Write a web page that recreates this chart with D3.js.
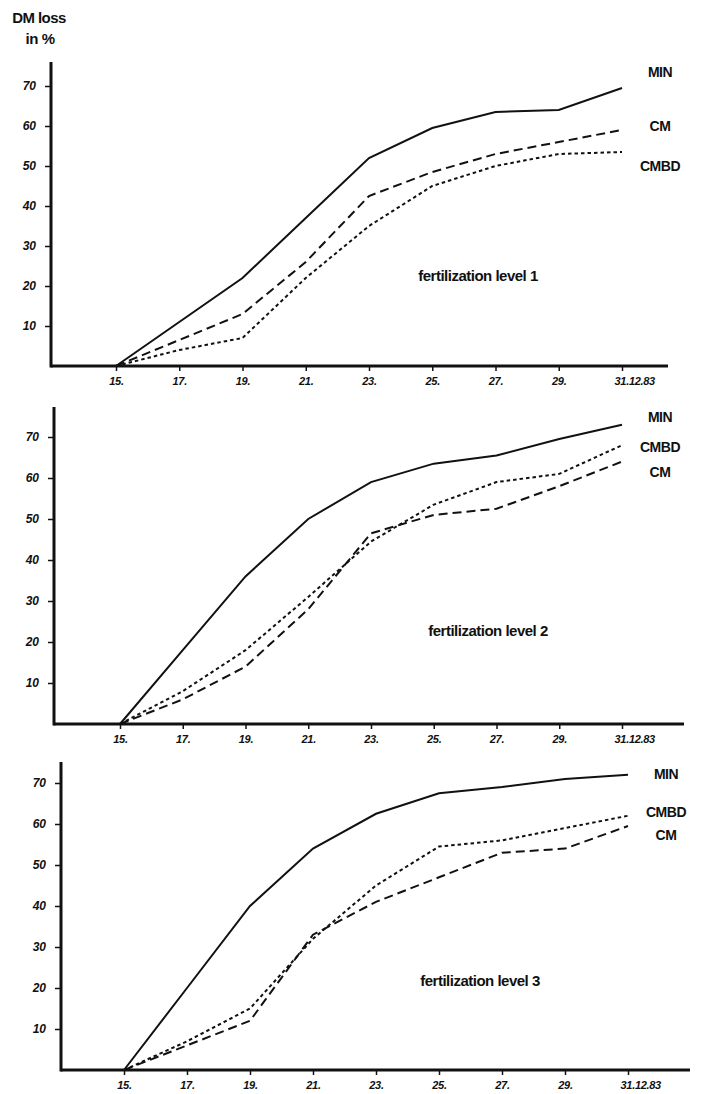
<!DOCTYPE html>
<html>
<head>
<meta charset="utf-8">
<script src="https://cdn.jsdelivr.net/npm/d3@7"></script>
<style>
  body { margin: 0; background: #fff; }
  svg { display: block; }
  .lbl { font-family: "Liberation Sans", Arial, sans-serif; font-weight: bold; fill: #111; }
  .tick-lbl { font-family: "Liberation Sans", Arial, sans-serif; font-weight: bold; font-style: italic; fill: #111; }
</style>
</head>
<body>
<svg id="chart"></svg>
<script>
"use strict";

// Dates on the x axis (December 1983)
const days = [15, 17, 19, 21, 23, 25, 27, 29, 31];
const dayLabels = ["15.", "17.", "19.", "21.", "23.", "25.", "27.", "29.", "31.12.83"];
const yTicks = [10, 20, 30, 40, 50, 60, 70];

// DM loss in %, fertilization level 1
const min1 = [0, 11, 22, 37, 52, 59.5, 63.5, 64, 69.5];
const cm1 = [0, 6.5, 13, 26, 42.5, 48.5, 53, 56, 59];
const cmbd1 = [0, 4, 7, 22, 35, 45, 50, 53, 53.5];

// fertilization level 2
const min2 = [0, 18, 36, 50, 59, 63.5, 65.5, 69.5, 73];
const cm2 = [0, 6, 14, 28, 46.5, 51, 52.5, 58, 64];
const cmbd2 = [0, 8, 18, 31, 44.5, 53.5, 59, 61, 68];

// fertilization level 3
const min3 = [0, 20, 40, 54, 62.5, 67.5, 69, 71, 72];
const cm3 = [0, 6, 12, 33, 41, 47, 53, 54, 59.5];
const cmbd3 = [0, 7, 15, 32, 45, 54.5, 56, 59, 62];

const seriesNames = ["MIN", "CM", "CMBD"];
const dashes = { MIN: null, CM: "9,5", CMBD: "3.5,3" };

const width = 701;
const height = 1094;

const svg = d3.select('#chart')
    .attr('width', width)
    .attr('height', height);

// Panel layout (pixel frame of each small chart)
const panels = [
    { title: "fertilization level 1", series: { MIN: min1, CM: cm1, CMBD: cmbd1 },
      axisX: 51, top: 62, y0: 366, y70: 86, x15: 116, x31: 622, xEnd: 668,
      titleX: 478, titleY: 281,
      labelAt: { MIN: 73.5, CM: 60, CMBD: 50 } },
    { title: "fertilization level 2", series: { MIN: min2, CM: cm2, CMBD: cmbd2 },
      axisX: 54, top: 407, y0: 724, y70: 437, x15: 120, x31: 622, xEnd: 684,
      titleX: 488, titleY: 636,
      labelAt: { MIN: 75, CMBD: 67.6, CM: 61.5 } },
    { title: "fertilization level 3", series: { MIN: min3, CM: cm3, CMBD: cmbd3 },
      axisX: 61, top: 762, y0: 1070, y70: 783, x15: 124, x31: 628, xEnd: 690,
      titleX: 480, titleY: 986,
      labelAt: { MIN: 72.3, CMBD: 63, CM: 57.4 } }
];

// y axis title
svg.append('text').attr('class', 'lbl')
    .attr('x', 39).attr('y', 23)
    .attr('text-anchor', 'middle')
    .style('font-size', '15px')
    .style('letter-spacing', '-0.6px')
    .text('DM loss');
svg.append('text').attr('class', 'lbl')
    .attr('x', 40).attr('y', 44)
    .attr('text-anchor', 'middle')
    .style('font-size', '15px')
    .style('letter-spacing', '-0.4px')
    .text('in %');

panels.forEach(p => {
    const x = d3.scaleLinear().domain([15, 31]).range([p.x15, p.x31]);
    const y = d3.scaleLinear().domain([0, 70]).range([p.y0, p.y70]);
    const g = svg.append('g');

    // y axis
    const yAxis = d3.axisLeft(y).tickValues(yTicks).tickSize(6).tickPadding(9);
    const ya = g.append('g')
        .attr('transform', 'translate(' + p.axisX + ',0)')
        .call(yAxis);
    ya.select('.domain').remove();
    ya.selectAll('.tick line').attr('stroke', '#111').attr('stroke-width', 1.5);
    ya.selectAll('.tick text')
        .attr('class', 'tick-lbl')
        .style('font-size', '12px');
    g.append('line')
        .attr('x1', p.axisX).attr('x2', p.axisX)
        .attr('y1', p.top).attr('y2', p.y0 + 1.5)
        .attr('stroke', '#111').attr('stroke-width', 3);

    // x axis
    const xAxis = d3.axisBottom(x).tickValues(days)
        .tickSize(5).tickPadding(6)
        .tickFormat((d) => dayLabels[days.indexOf(d)]);
    const xa = g.append('g')
        .attr('transform', 'translate(0,' + p.y0 + ')')
        .call(xAxis);
    xa.select('.domain').remove();
    xa.selectAll('.tick line').attr('stroke', '#111').attr('stroke-width', 1.5);
    xa.selectAll('.tick text')
        .attr('class', 'tick-lbl')
        .style('font-size', '11px')
        .style('letter-spacing', '-0.3px')
        .attr('text-anchor', d => d === 31 ? 'start' : 'middle')
        .attr('dx', d => d === 31 ? -8 : 0);
    g.append('line')
        .attr('x1', p.axisX).attr('x2', p.xEnd)
        .attr('y1', p.y0).attr('y2', p.y0)
        .attr('stroke', '#111').attr('stroke-width', 3);

    // data lines
    const line = d3.line()
        .x((d, i) => x(days[i]))
        .y(d => y(d));

    seriesNames.forEach(name => {
        g.append('path')
            .datum(p.series[name])
            .attr('d', line)
            .attr('fill', 'none')
            .attr('stroke', '#111')
            .attr('stroke-width', 2)
            .attr('stroke-dasharray', dashes[name]);

        g.append('text').attr('class', 'lbl')
            .attr('x', p.x31 + 38)
            .attr('y', y(p.labelAt[name]) + 5)
            .attr('text-anchor', 'middle')
            .style('font-size', '14px')
            .style('letter-spacing', '-0.5px')
            .text(name);
    });

    // panel title
    g.append('text').attr('class', 'lbl')
        .attr('x', p.titleX).attr('y', p.titleY)
        .attr('text-anchor', 'middle')
        .style('font-size', '15px')
        .style('letter-spacing', '-0.5px')
        .text(p.title);
});
</script>
</body>
</html>
